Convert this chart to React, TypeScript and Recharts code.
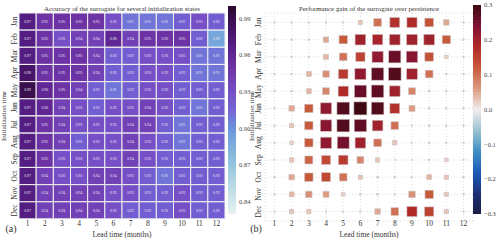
import React from 'react';
import {
  BarChart,
  Bar,
  XAxis,
  YAxis,
  Cell,
  LabelList,
  ScatterChart,
  Scatter,
  ZAxis,
  CartesianGrid,
} from 'recharts';

const months = ['Jan', 'Feb', 'Mar', 'Apr', 'May', 'Jun', 'Jul', 'Aug', 'Sep', 'Oct', 'Nov', 'Dec'];
const leadTimes = [1, 2, 3, 4, 5, 6, 7, 8, 9, 10, 11, 12];

// accuracy of the surrogate, rows = initialization month, cols = lead time
const accuracy = [
  [0.97, 0.95, 0.95, 0.95, 0.95, 0.93, 0.91, 0.91, 0.91, 0.92, 0.93, 0.92],
  [0.97, 0.95, 0.93, 0.94, 0.94, 0.96, 0.94, 0.95, 0.95, 0.95, 0.92, 0.89],
  [0.97, 0.95, 0.95, 0.95, 0.94, 0.92, 0.92, 0.93, 0.93, 0.93, 0.91, 0.91],
  [0.98, 0.95, 0.95, 0.95, 0.94, 0.92, 0.92, 0.93, 0.93, 0.92, 0.91, 0.91],
  [0.99, 0.96, 0.95, 0.94, 0.92, 0.91, 0.92, 0.93, 0.93, 0.92, 0.92, 0.92],
  [0.97, 0.96, 0.94, 0.93, 0.92, 0.93, 0.93, 0.94, 0.93, 0.92, 0.91, 0.92],
  [0.97, 0.95, 0.94, 0.93, 0.93, 0.93, 0.94, 0.94, 0.92, 0.91, 0.92, 0.92],
  [0.97, 0.95, 0.94, 0.92, 0.93, 0.93, 0.94, 0.93, 0.92, 0.91, 0.92, 0.92],
  [0.97, 0.95, 0.93, 0.93, 0.93, 0.93, 0.94, 0.93, 0.92, 0.92, 0.92, 0.92],
  [0.97, 0.94, 0.93, 0.93, 0.94, 0.94, 0.93, 0.92, 0.91, 0.92, 0.92, 0.92],
  [0.97, 0.94, 0.94, 0.94, 0.94, 0.93, 0.93, 0.92, 0.92, 0.93, 0.92, 0.92],
  [0.97, 0.94, 0.94, 0.94, 0.94, 0.93, 0.92, 0.92, 0.92, 0.93, 0.92, 0.92],
];

// performance gain over persistence
const gain = [
  [0, 0, 0, 0, 0, 0.03, 0.1, 0.17, 0.18, 0.13, 0.05, 0],
  [0, 0, 0, 0.05, 0.12, 0.2, 0.19, 0.2, 0.2, 0.2, 0.12, 0],
  [0, 0, 0, 0.04, 0.1, 0.15, 0.22, 0.26, 0.23, 0.13, 0.02, 0],
  [0, 0, 0.04, 0.07, 0.16, 0.22, 0.27, 0.28, 0.2, 0.1, 0, 0],
  [0, 0, 0.04, 0.08, 0.18, 0.26, 0.27, 0.2, 0.08, 0, 0, 0],
  [0, 0.05, 0.12, 0.22, 0.28, 0.3, 0.28, 0.17, 0.06, 0, 0, 0],
  [0, 0.03, 0.12, 0.23, 0.28, 0.27, 0.2, 0.1, 0, 0, 0, 0],
  [0, 0.02, 0.12, 0.22, 0.25, 0.2, 0.1, 0.03, 0, 0, 0, 0],
  [0, 0.03, 0.11, 0.14, 0.16, 0.08, 0.03, 0, 0, 0, 0.02, 0],
  [0, 0.05, 0.12, 0.14, 0.1, 0.03, 0, 0, 0, 0.04, 0.03, 0],
  [0, 0.04, 0.07, 0.06, 0.02, 0, 0, 0, 0.07, 0.12, 0.03, 0],
  [0, 0.03, 0.03, 0, 0, 0, 0.05, 0.1, 0.18, 0.15, 0.03, 0],
];

const accTicks = [0.99, 0.96, 0.93, 0.9, 0.87, 0.84];
const gainTicks = [0.3, 0.2, 0.1, 0, -0.1, -0.2, -0.3];
const accDomain = [0.83, 1.0];
const gainDomain = [-0.3, 0.3];

const SERIF = '"Liberation Serif", "DejaVu Serif", serif';

// colormaps (approx. cmocean dense / balance)
const denseStops = ['#e6f1f1', '#c4e1e7', '#a0cde0', '#80b6dc', '#6d98dc', '#7266d6', '#764cc4', '#6e34a6', '#58208a', '#441262', '#2a0a2c'];
const balanceStops = ['#181c43', '#1e2f7a', '#1a5cb8', '#3f8fc4', '#9cc2d2', '#f1edec', '#dc9a80', '#c85a3c', '#b02a2a', '#801232', '#3c0912'];

function hexRgb(h: string) {
  return [1, 3, 5].map((i) => parseInt(h.slice(i, i + 2), 16));
}

function makeCmap(stops: string[]) {
  const rgb = stops.map(hexRgb);
  return (t: number) => {
    const c = Math.max(0, Math.min(1, t)) * (rgb.length - 1);
    const i = Math.min(Math.floor(c), rgb.length - 2);
    const f = c - i;
    const m = rgb[i].map((v, k) => Math.round(v + (rgb[i + 1][k] - v) * f));
    return `rgb(${m[0]},${m[1]},${m[2]})`;
  };
}

const dense = makeCmap(denseStops);
const balance = makeCmap(balanceStops);
const accColor = (v: number) => dense((v - accDomain[0]) / (accDomain[1] - accDomain[0]));
const gainColor = (v: number) => balance((v - gainDomain[0]) / (gainDomain[1] - gainDomain[0]));

const heatRows = months.map((m, i) => {
  const row: any = { month: m };
  leadTimes.forEach((_, j) => {
    row[`w${j}`] = 1;
    row[`a${j}`] = accuracy[i][j];
  });
  return row;
});

const gainPoints = months.flatMap((m, i) =>
  leadTimes.map((t, j) => ({ lead: t, row: i + 1, gain: gain[i][j], mag: Math.abs(gain[i][j]) }))
);

const MonthTick = (props: any) => {
  const { x, y, payload, dx } = props;
  return (
    <g transform={`translate(${x + (dx || 0)},${y}) rotate(-90)`}>
      <text textAnchor="middle" dy="0.35em" fontSize={7.5} fontFamily={SERIF} fill="#333">
        {typeof payload.value === 'number' ? months[payload.value - 1] : payload.value}
      </text>
    </g>
  );
};

const CellLabel = (props: any) => {
  const { x, y, width, height, value } = props;
  return (
    <text
      x={x + width / 2}
      y={y + height / 2}
      dy="0.35em"
      textAnchor="middle"
      fontSize={3.8}
      fontFamily={SERIF}
      fill="#ece4f4"
    >
      {Number(value).toFixed(2)}
    </text>
  );
};

// square marker, area taken from the ZAxis scale
const Square = (props: any) => {
  const { cx, cy, payload } = props;
  const s = 2 * Math.sqrt(Math.max(props.size || 0, 0) / Math.PI);
  return (
    <rect
      x={cx - s / 2}
      y={cy - s / 2}
      width={s}
      height={s}
      fill={gainColor(payload.gain)}
      stroke="#cdbfbf"
      strokeWidth={0.6}
    />
  );
};

function gradStops(cmap: (t: number) => string) {
  const n = 20;
  return Array.from({ length: n + 1 }, (_, i) => (
    <stop key={i} offset={`${(i / n) * 100}%`} stopColor={cmap(1 - i / n)} />
  ));
}

const fmtGain = (v: number) => (v < 0 ? '\u2212' + Math.abs(v).toFixed(1) : v.toFixed(1));

function Colorbar({ left, top, bottom, domain, ticks, cmap, id, fmt }: any) {
  return (
    <div style={{ position: 'absolute', left, top: 0 }}>
      <BarChart
        width={34}
        height={241}
        data={[{ name: 'cb', range: domain }]}
        margin={{ top, bottom: 241 - bottom, left: 0, right: 0 }}
        barCategoryGap={0}
      >
        <defs>
          <linearGradient id={id} x1="0" y1="0" x2="0" y2="1">
            {gradStops(cmap)}
          </linearGradient>
        </defs>
        <XAxis dataKey="name" hide />
        <YAxis
          orientation="right"
          type="number"
          domain={domain}
          ticks={ticks}
          width={26}
          tickFormatter={fmt}
          tickLine={false}
          axisLine={false}
          tickSize={0}
          tickMargin={3}
          tick={{ fontSize: 6.5, fontFamily: SERIF, fill: '#444', textAnchor: 'start' }}
          interval={0}
        />
        <Bar dataKey="range" fill={`url(#${id})`} isAnimationActive={false} />
      </BarChart>
    </div>
  );
}

const textStyle = (x: number, y: number, size: number, rotate = 0): React.CSSProperties => ({
  position: 'absolute',
  left: x,
  top: y,
  transform: `translate(-50%, -50%) rotate(${rotate}deg)`,
  whiteSpace: 'nowrap',
  fontFamily: SERIF,
  fontSize: size,
  lineHeight: 1,
  color: '#333',
});

export default function App() {
  return (
    <div style={{ position: 'absolute', left: 0, top: 0, width: 500, height: 241, background: '#fff', overflow: 'hidden' }}>
      {/* (a) accuracy heatmap */}
      <div style={{ position: 'absolute', left: 0, top: 0 }}>
        <BarChart
          width={250}
          height={241}
          layout="vertical"
          data={heatRows}
          margin={{ top: 13, right: 25, bottom: 0, left: 0 }}
          barCategoryGap={0}
        >
          <XAxis
            type="number"
            domain={[0, 12]}
            ticks={leadTimes.map((t) => t - 0.5)}
            tickFormatter={(v: number) => String(v + 0.5)}
            height={22}
            tickLine={false}
            axisLine={false}
            tickSize={0}
            tickMargin={2}
            interval={0}
            tick={{ fontSize: 7.5, fontFamily: SERIF, fill: '#333' }}
          />
          <YAxis
            type="category"
            dataKey="month"
            width={19}
            tickLine={false}
            axisLine={false}
            tickSize={0}
            tickMargin={0}
            interval={0}
            tick={<MonthTick dx={-5} />}
          />
          {leadTimes.map((t, j) => (
            <Bar key={t} dataKey={`w${j}`} stackId="h" isAnimationActive={false} stroke="#efefef" strokeWidth={1}>
              {heatRows.map((_, i) => (
                <Cell key={i} fill={accColor(accuracy[i][j])} />
              ))}
              <LabelList dataKey={`a${j}`} content={CellLabel} />
            </Bar>
          ))}
        </BarChart>
      </div>
      <Colorbar left={228} top={6} bottom={214} domain={accDomain} ticks={accTicks} cmap={dense} id="gAcc" fmt={(v: number) => v.toFixed(2)} />

      {/* (b) performance gain */}
      <div style={{ position: 'absolute', left: 250, top: 0 }}>
        <ScatterChart width={250} height={241} margin={{ top: 13, right: 27, bottom: 0, left: 2 }}>
          <CartesianGrid stroke="#d4d4d4" strokeDasharray="1 2" strokeWidth={0.8} />
          <XAxis
            type="number"
            dataKey="lead"
            domain={[0.45, 12.55]}
            ticks={leadTimes}
            height={20}
            tickLine={false}
            axisLine={false}
            tickSize={0}
            tickMargin={0}
            interval={0}
            tick={{ fontSize: 7.5, fontFamily: SERIF, fill: '#333' }}
          />
          <YAxis
            type="number"
            dataKey="row"
            domain={[0.45, 12.55]}
            reversed
            ticks={leadTimes}
            width={13}
            tickLine={false}
            axisLine={false}
            tickSize={0}
            tickMargin={0}
            interval={0}
            tick={<MonthTick dx={-7} />}
          />
          <ZAxis type="number" dataKey="mag" domain={[0, 0.3]} range={[1.5, 133]} />
          <Scatter data={gainPoints} shape={Square} isAnimationActive={false} />
        </ScatterChart>
      </div>
      <Colorbar left={473} top={5} bottom={214} domain={gainDomain} ticks={gainTicks} cmap={balance} id="gGain" fmt={fmtGain} />

      {/* titles and labels */}
      <div style={textStyle(122, 9, 6.9)}>Accuracy of the surrogate for several initialization states</div>
      <div style={textStyle(369, 9, 6.9)}>Performance gain of the surrogate over persistence</div>
      <div style={textStyle(122, 235, 7.5)}>Lead time (months)</div>
      <div style={textStyle(369, 235, 7.5)}>Lead time (months)</div>
      <div style={textStyle(4, 116, 7, -90)}>Initialization time</div>
      <div style={textStyle(252, 116, 7, -90)}>Initialization time</div>
      <div style={textStyle(11, 229, 10)}>(a)</div>
      <div style={textStyle(256, 229, 10)}>(b)</div>
    </div>
  );
}
